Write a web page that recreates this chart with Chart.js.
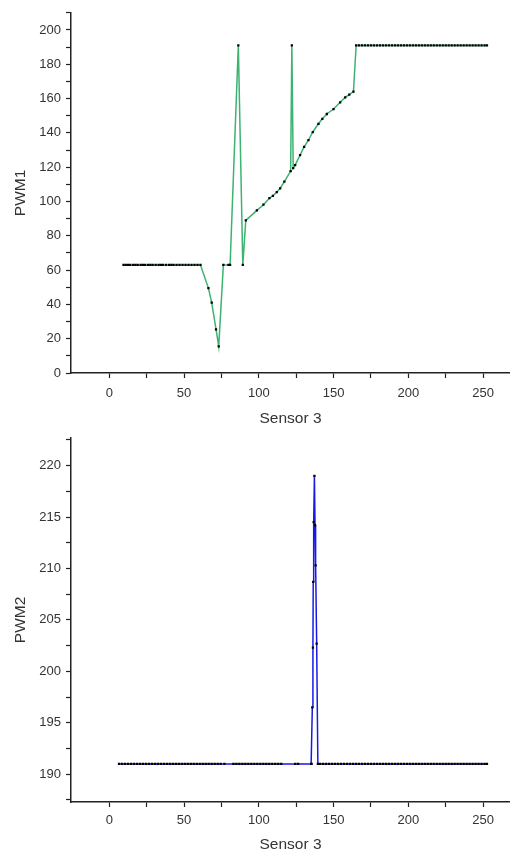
<!DOCTYPE html>
<html>
<head>
<meta charset="utf-8">
<script src="https://cdn.jsdelivr.net/npm/chart.js@4"></script>
<style>
  html, body { margin: 0; padding: 0; background: #fff; }
  .box { position: absolute; left: 0; width: 510px; }
  #b1 { top: 0; height: 425px; }
  #b2 { top: 425px; height: 426px; }
</style>
</head>
<body>
<div class="box" id="b1"><canvas id="c1" width="510" height="425"></canvas></div>
<div class="box" id="b2"><canvas id="c2" width="510" height="426"></canvas></div>
<script>
// ---- Data: chart 1 (PWM1 vs Sensor 3) ----
const pwm1X = [9.5, 11, 12.5, 14, 16, 17.5, 19, 21, 22.5, 24, 26, 27.5, 29, 31, 33, 34.5, 36, 38, 40, 41.5,
  43, 45, 47, 49, 51, 53, 55, 57, 59, 61,
  66.3, 68.5, 71.4, 73.2, 76.3, 79.7, 80.8, 86.3, 89.3, 91.3,
  98.7, 103.1, 107.1, 109.4, 112, 114.3, 117.1, 121.3, 122.1, 123.0, 124.3, 127.6, 130.3, 133.2, 136.1,
  139.9, 142.5, 145.5, 150, 154.4, 157.8, 160.5, 163.3, 165.1,
  167, 169, 171, 173, 175, 177, 179, 181, 183, 185, 187, 189, 191, 193, 195, 197, 199, 201, 203, 205,
  207, 209, 211, 213, 215, 217, 219, 221, 223, 225, 227, 229, 231, 233, 235, 237, 239, 241, 243, 245,
  247, 249, 251, 252.6];
const pwm1Y = [63, 63, 63, 63, 63, 63, 63, 63, 63, 63, 63, 63, 63, 63, 63, 63, 63, 63, 63, 63,
  63, 63, 63, 63, 63, 63, 63, 63, 63, 63,
  49.5, 41, 25.5, 15.5, 63, 63, 63, 191, 63, 89,
  94.8, 98.1, 101.9, 103.3, 105.4, 107.7, 111.6, 117.7, 191, 119.5, 121.2, 127, 131.8, 135.7, 140.5,
  145.3, 148.2, 151, 153.9, 157.8, 160.7, 162.3, 164, 191,
  191, 191, 191, 191, 191, 191, 191, 191, 191, 191, 191, 191, 191, 191, 191, 191, 191, 191, 191, 191,
  191, 191, 191, 191, 191, 191, 191, 191, 191, 191, 191, 191, 191, 191, 191, 191, 191, 191, 191, 191,
  191, 191, 191, 191];

// ---- Data: chart 2 (PWM2 vs Sensor 3) ----
const pwm2X = [6.5, 8.5, 10.5, 12.5, 14.5, 16.5, 18.5, 20.5, 22.5, 24.5, 26.5, 28.5, 30.5, 32.5, 34.5,
  36.5, 38.5, 40.5, 42.5, 44.5, 46.5, 48.5, 50.5, 52.5, 54.5, 56.5, 58.5, 60.5, 62.5, 64.5, 66.5,
  68.5, 70.5, 72.5, 74.5, 77,
  83, 85, 87, 89, 91, 93, 95, 97, 99, 101, 103, 105, 107, 109, 111, 113, 115,
  124.4, 126.3, 135.0,
  135.3, 135.8, 136.2, 136.4, 136.7, 137.2, 137.6, 138.0, 138.7, 139.5,
  141, 143, 145, 147, 149, 151, 153, 155, 157, 159, 161, 163, 165, 167, 169, 171, 173, 175, 177, 179,
  181, 183, 185, 187, 189, 191, 193, 195, 197, 199, 201, 203, 205, 207, 209, 211, 213, 215, 217, 219,
  221, 223, 225, 227, 229, 231, 233, 235, 237, 239, 241, 243, 245, 247, 249, 251, 252.6];
const pwm2Y = [191, 191, 191, 191, 191, 191, 191, 191, 191, 191, 191, 191, 191, 191, 191,
  191, 191, 191, 191, 191, 191, 191, 191, 191, 191, 191, 191, 191, 191, 191, 191,
  191, 191, 191, 191, 191,
  191, 191, 191, 191, 191, 191, 191, 191, 191, 191, 191, 191, 191, 191, 191, 191, 191,
  191, 191, 191,
  191, 196.5, 202.3, 208.7, 214.5, 219, 214.2, 210.3, 202.7, 191,
  191, 191, 191, 191, 191, 191, 191, 191, 191, 191, 191, 191, 191, 191, 191, 191, 191, 191, 191, 191,
  191, 191, 191, 191, 191, 191, 191, 191, 191, 191, 191, 191, 191, 191, 191, 191, 191, 191, 191, 191,
  191, 191, 191, 191, 191, 191, 191, 191, 191, 191, 191, 191, 191, 191, 191, 191, 191];

// ---- Tick values ----
const xTicks = [0, 25, 50, 75, 100, 125, 150, 175, 200, 225, 250];
const xLabelStep = 50;
const y1Ticks = [0, 10, 20, 30, 40, 50, 60, 70, 80, 90, 100, 110, 120, 130, 140, 150, 160, 170, 180, 190, 200, 210];
const y1LabelStep = 20;
const y2Ticks = [187.5, 190, 192.5, 195, 197.5, 200, 202.5, 205, 207.5, 210, 212.5, 215, 217.5, 220, 222.5];
const y2LabelStep = 5;

const FONT = "'Liberation Sans', Arial, sans-serif";
const AXIS = '#222';
const TEXT = '#333';

function axisX(min, max, height, tickPad, titlePad) {
  return {
    type: 'linear', min: min, max: max,
    afterBuildTicks: s => { s.ticks = xTicks.map(v => ({ value: v })); },
    afterFit: s => { s.height = height; },
    ticks: {
      autoSkip: false, maxRotation: 0, padding: tickPad, color: TEXT,
      font: { family: FONT, size: 13 },
      callback: v => (v % xLabelStep === 0 ? String(v) : '')
    },
    grid: { drawOnChartArea: false, drawTicks: true, tickLength: 5, tickColor: AXIS, tickWidth: 1.2 },
    border: { display: true, color: AXIS, width: 1.5 },
    title: { display: true, text: 'Sensor 3', color: TEXT, font: { family: FONT, size: 15.5 }, padding: titlePad }
  };
}
function axisY(min, max, ticksArr, step, label) {
  return {
    type: 'linear', min: min, max: max,
    afterBuildTicks: s => { s.ticks = ticksArr.map(v => ({ value: v })); },
    afterFit: s => { s.width = 71; },
    ticks: {
      autoSkip: false, padding: 5, color: TEXT,
      font: { family: FONT, size: 13 },
      callback: v => (Math.abs(v % step) < 1e-9 ? String(v) : '')
    },
    grid: { drawOnChartArea: false, drawTicks: true, tickLength: 5, tickColor: AXIS, tickWidth: 1.2 },
    border: { display: true, color: AXIS, width: 1.5 },
    title: { display: true, text: label, color: TEXT, font: { family: FONT, size: 15.5 }, padding: { top: 11, bottom: 0 } }
  };
}

function makeChart(id, xs, ys, color, yAxis, xAxis, pad) {
  new Chart(document.getElementById(id), {
    type: 'line',
    data: {
      datasets: [{
        data: xs.map((x, i) => ({ x: x, y: ys[i] })),
        borderColor: color, borderWidth: 1.5, tension: 0, fill: false,
        pointStyle: 'rect', pointRadius: 1.6, pointBorderWidth: 0,
        pointBackgroundColor: '#000', pointBorderColor: '#000'
      }]
    },
    options: {
      responsive: false, animation: false, devicePixelRatio: 1,
      layout: { padding: pad, autoPadding: false },
      plugins: { legend: { display: false }, tooltip: { enabled: false } },
      scales: { x: xAxis, y: yAxis }
    }
  });
}

makeChart('c1', pwm1X, pwm1Y, 'rgb(60,179,113)',
  axisY(0, 210, y1Ticks, y1LabelStep, 'PWM1'),
  axisX(-25.6, 268, 52, 8, { top: 4, bottom: -3 }),
  { top: 9, right: 0, left: 0, bottom: 0 });

makeChart('c2', pwm2X, pwm2Y, 'rgb(25,25,230)',
  axisY(187.3, 222.7, y2Ticks, y2LabelStep, 'PWM2'),
  axisX(-25.6, 268, 49, 6, { top: 2, bottom: -3 }),
  { top: 10, right: 0, left: 0, bottom: 0 });
</script>
</body>
</html>
